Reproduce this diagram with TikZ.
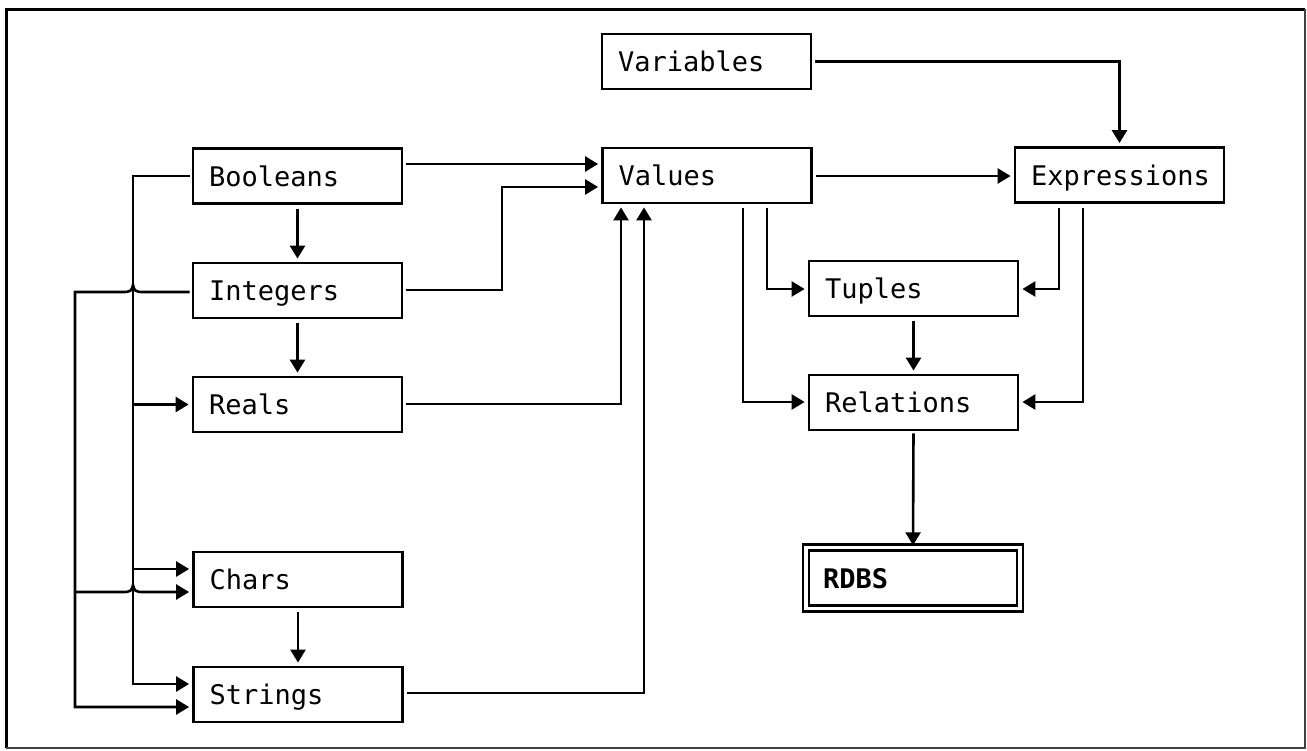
\documentclass[tikz,border=0pt]{standalone}
\usepackage{fontspec}
\newfontfamily\boxfont{DejaVu Sans Mono}
\usetikzlibrary{arrows.meta}
\begin{document}
\begin{tikzpicture}[x=1pt,y=-1pt,
  box/.style={draw, line width=2.8pt, minimum height=55pt, text width=177pt,
    inner xsep=16pt, inner ysep=0pt, align=left, text height=20pt, text depth=0pt,
    font=\boxfont\fontsize{27}{31}\selectfont},
  ln/.style={line width=2.6pt, line join=miter},
  arr/.style={ln, -{Triangle[length=13pt,width=15pt]}, shorten >=3pt},
  frameA/.style={line width=3pt},
  frameB/.style={line width=1.5pt, black!75}]
\useasboundingbox (0,0) rectangle (1307,750);
% frame
\draw[frameA] (6,748) -- (6,9) -- (1305,9);
\draw[frameB] (1305,9) -- (1305,748) -- (6,748);

% nodes
\node[box] (bool) at (297.5,176) {Booleans};
\node[box] (int)  at (297.5,290.5) {Integers};
\node[box] (real) at (297.5,404.5) {Reals};
\node[box] (chr)  at (298,579.5) {Chars};
\node[box] (str)  at (298,694.5) {Strings};
\node[box] (var)  at (706.5,61.5) {Variables};
\node[box] (val)  at (707,175.5) {Values};
\node[box] (expr) at (1119.5,175) {Expressions};
\node[box] (tup)  at (913.5,288.5) {Tuples};
\node[box] (rel)  at (913.5,402.5) {Relations};
\node[draw, double, double distance=3.5pt, line width=2.4pt, minimum width=214pt,
  minimum height=61pt, text width=180pt, inner xsep=17pt, align=left,
  text height=20pt, text depth=0pt,
  font=\boxfont\bfseries\fontsize{27}{31}\selectfont] (rdbs) at (913,578) {RDBS};

% left column vertical arrows
\draw[arr, shorten <=4pt] (bool.south) -- (int.north);
\draw[arr, shorten <=4pt] (int.south) -- (real.north);
\draw[arr, shorten <=4pt] (chr.south) -- (str.north);

% bus A (from Booleans)
\draw[arr, shorten <=2pt] (bool.west) -| (133,684) -- (str.west |- 0,684);
\draw[arr] (real.west -| 133,0) -- (real.west);
\draw[arr] (133,569) -- (chr.west |- 0,569);

% bus B (from Integers) with hops over bus A
\draw[arr, shorten <=2pt] (int.west |- 0,292) -- (143,292)
  .. controls (136,292) and (134,291) .. (133,285)
  .. controls (132,291) and (130,292) .. (123,292)
  -- (75,292) -- (75,707) -- (str.west |- 0,707);
\draw[arr] (75,592) -- (123,592)
  .. controls (130,592) and (132,591) .. (133,585)
  .. controls (134,591) and (136,592) .. (143,592)
  -- (chr.west |- 0,592);

% into Values
\draw[arr, shorten <=3pt] (bool.east |- 0,164) -- (val.west |- 0,164);
\draw[arr, shorten <=3pt] (int.east |- 0,290) -- (502,290) -- (502,187) -- (val.west |- 0,187);
\draw[arr, shorten <=3pt] (real.east |- 0,404) -| (val.south -| 621,0);
\draw[arr, shorten <=3pt] (str.east |- 0,693) -| (val.south -| 644,0);

% right part
\draw[arr, shorten <=3pt] (val.east |- 0,176) -- (expr.west |- 0,176);
\draw[arr, shorten <=3pt] (var.east) -| (expr.north);
\draw[arr, shorten <=4pt] (val.south -| 767,0) |- (tup.west |- 0,289);
\draw[arr, shorten <=4pt] (val.south -| 743,0) |- (rel.west |- 0,402);
\draw[arr, shorten <=4pt] (expr.south -| 1059,0) |- (tup.east |- 0,289);
\draw[arr, shorten <=4pt] (expr.south -| 1083,0) |- (rel.east |- 0,402);
\draw[arr, shorten <=4pt] (tup.south) -- (rel.north);
\draw[arr, shorten <=2pt, shorten >=1pt] (rel.south) -- (rdbs.north);
\end{tikzpicture}
\end{document}
